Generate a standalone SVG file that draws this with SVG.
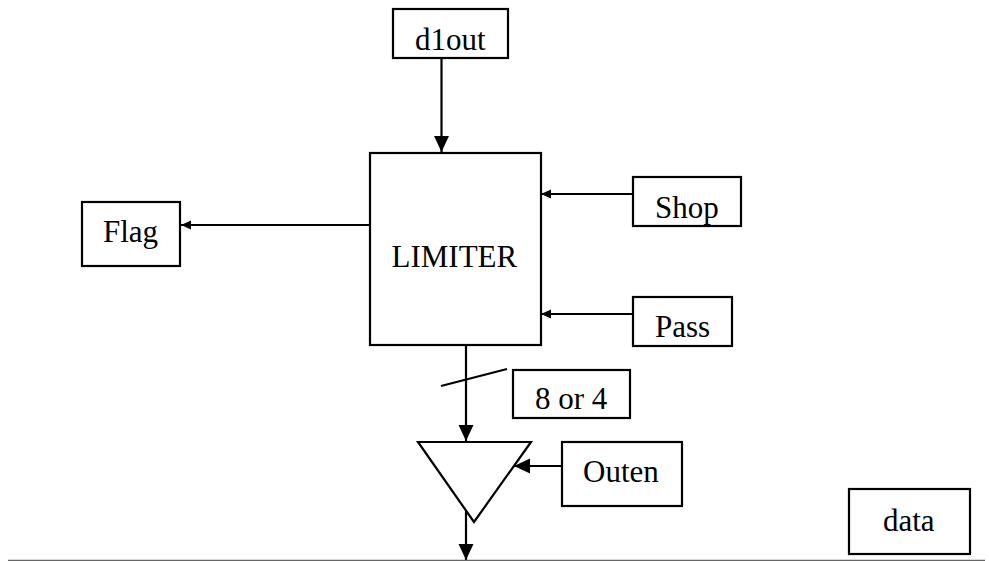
<svg xmlns="http://www.w3.org/2000/svg" width="989" height="561" viewBox="0 0 989 561">
<style>
.box{fill:#fff;stroke:#000;stroke-width:2.2}
.t{font-family:"Liberation Serif","Times New Roman",serif;font-size:31px;fill:#000}
.c{fill:none;stroke:#000;stroke-width:2.2}
</style>
<defs>
<marker id="big" markerUnits="userSpaceOnUse" markerWidth="16" markerHeight="16" viewBox="0 0 15 14" refX="15" refY="7" orient="auto">
<path d="M0,0 L15,7 L0,14 Z" fill="#000"/>
</marker>
<marker id="small" markerUnits="userSpaceOnUse" markerWidth="10" markerHeight="10" viewBox="0 0 9 8" refX="9" refY="4" orient="auto">
<path d="M0,0 L9,4 L0,8 Z" fill="#000"/>
</marker>
</defs>
<g id="connectors">
<path class="c" d="M441.5,58 V152" marker-end="url(#big)"/>
<path class="c" d="M370,225 H181" marker-end="url(#small)"/>
<path class="c" d="M633,194 H541" marker-end="url(#small)"/>
<path class="c" d="M633,314 H541" marker-end="url(#small)"/>
<path class="c" d="M466,345 V441" marker-end="url(#big)"/>
<path class="c" d="M441,386 L507,369"/>
<path class="c" d="M562,466 H514" marker-end="url(#big)"/>
<path class="c" d="M466,511 V560" marker-end="url(#big)"/>
<path d="M8,560.5 H985" fill="none" stroke="#666" stroke-width="1.5"/>
</g>
<g id="d1out"><rect class="box" x="393" y="9" width="115" height="49"/><text class="t" x="415" y="50">d1out</text></g>
<g id="limiter"><rect class="box" x="370" y="153" width="171" height="192"/><text class="t" x="391.5" y="266.5">LIMITER</text></g>
<g id="flag"><rect class="box" x="82" y="202" width="98" height="64"/><text class="t" x="103" y="242">Flag</text></g>
<g id="shop"><rect class="box" x="633" y="177" width="108" height="49"/><text class="t" x="655" y="217.5">Shop</text></g>
<g id="pass"><rect class="box" x="633" y="297" width="99" height="49"/><text class="t" x="655" y="336.5">Pass</text></g>
<g id="width"><rect class="box" x="513" y="370" width="117" height="48"/><text class="t" x="535" y="409">8 or 4</text></g>
<g id="buffer"><path class="box" d="M418,442 L531,442 L474,522 Z"/></g>
<g id="outen"><rect class="box" x="562" y="442" width="120" height="64"/><text class="t" x="583" y="481.5">Outen</text></g>
<g id="data"><rect class="box" x="849" y="489" width="121" height="65"/><text class="t" x="883" y="530.5">data</text></g>
</svg>
